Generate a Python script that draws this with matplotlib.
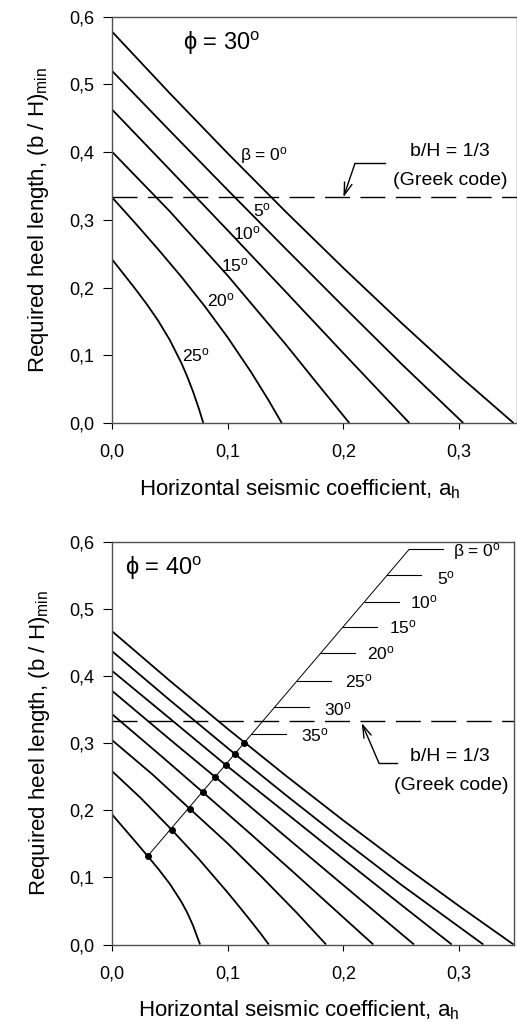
import matplotlib
matplotlib.use("Agg")
import matplotlib.pyplot as plt
import numpy as np

plt.rcParams['font.family'] = ['Liberation Sans', 'DejaVu Sans']
plt.rcParams['mathtext.fontset'] = 'custom'
plt.rcParams['mathtext.rm'] = 'Liberation Sans'
plt.rcParams['mathtext.it'] = 'Liberation Sans:italic'
plt.rcParams['mathtext.bf'] = 'Liberation Sans:bold'

# ---------------- data: phi = 30 deg ----------------
betas30 = [0, 5, 10, 15, 20, 25]
phi30_a = [
    [0, 0.05, 0.10, 0.15, 0.20, 0.25, 0.30, 0.347],
    [0, 0.05, 0.10, 0.15, 0.20, 0.25, 0.3036],
    [0, 0.05, 0.10, 0.15, 0.20, 0.257],
    [0, 0.05, 0.10, 0.15, 0.175, 0.2051],
    [0, 0.02, 0.04, 0.06, 0.08, 0.10, 0.12, 0.135, 0.1467],
    [0, 0.01, 0.02, 0.03, 0.04, 0.05, 0.06, 0.065, 0.07, 0.075, 0.0789],
]
phi30_v = [
    [0.578, 0.4868, 0.3982, 0.3122, 0.2288, 0.148, 0.0698, 0.0],
    [0.520, 0.4315, 0.344, 0.2575, 0.172, 0.0875, 0.0],
    [0.463, 0.374, 0.2845, 0.194, 0.103, 0.0],
    [0.4006, 0.3124, 0.2176, 0.1164, 0.0633, 0.0],
    [0.3333, 0.2953, 0.2563, 0.2158, 0.1727, 0.1263, 0.0757, 0.0344, 0.0],
    [0.2417, 0.2201, 0.1983, 0.1756, 0.1508, 0.1224, 0.0885, 0.0686, 0.0465, 0.0216, 0.0],
]
labels30 = [r'β = 0$^{\mathrm{o}}$', r'5$^{\mathrm{o}}$', r'10$^{\mathrm{o}}$',
            r'15$^{\mathrm{o}}$', r'20$^{\mathrm{o}}$', r'25$^{\mathrm{o}}$']
label30_a = [0.1315, 0.130, 0.1164, 0.1063, 0.0938, 0.0722]
label30_v = [0.3957, 0.3145, 0.2801, 0.2333, 0.1816, 0.1004]

# ---------------- data: phi = 40 deg ----------------
betas40 = [0, 5, 10, 15, 20, 25, 30, 35]
phi40_a = [
    [0, 0.05, 0.10, 0.15, 0.20, 0.25, 0.30, 0.347],
    [0, 0.05, 0.1066, 0.15, 0.20, 0.25, 0.3209],
    [0, 0.05, 0.0988, 0.15, 0.20, 0.25, 0.2936],
    [0, 0.05, 0.0893, 0.15, 0.20, 0.261],
    [0, 0.04, 0.0787, 0.12, 0.16, 0.20, 0.2258],
    [0, 0.035, 0.0672, 0.10, 0.13, 0.16, 0.185],
    [0, 0.025, 0.0516, 0.075, 0.10, 0.11, 0.12, 0.128, 0.1355],
    [0, 0.01, 0.02, 0.03, 0.04, 0.05, 0.06, 0.065, 0.07, 0.0761],
]
phi40_v = [
    [0.4667, 0.3928, 0.3212, 0.2518, 0.1847, 0.1198, 0.0572, 0.0],
    [0.437, 0.3639, 0.2832, 0.2229, 0.155, 0.0889, 0.0],
    [0.4077, 0.3366, 0.2668, 0.1964, 0.1273, 0.0590, 0.0],
    [0.3779, 0.3055, 0.2494, 0.1607, 0.0883, 0.0],
    [0.3432, 0.2845, 0.2266, 0.1643, 0.1027, 0.0402, 0.0],
    [0.3045, 0.2533, 0.2022, 0.1505, 0.0996, 0.0466, 0.0],
    [0.2583, 0.2179, 0.1709, 0.1274, 0.0773, 0.0563, 0.0349, 0.0173, 0.0],
    [0.1938, 0.1737, 0.1537, 0.1334, 0.1126, 0.0902, 0.0635, 0.0475, 0.0284, 0.0],
]
dots40_a = [0.1143, 0.1066, 0.0988, 0.0893, 0.0787, 0.0672, 0.0516, 0.0309]
dots40_v = [0.300, 0.2832, 0.2668, 0.2494, 0.2266, 0.2022, 0.1709, 0.1318]
diag_a = [0.0309, 0.2567]
diag_v = [0.1318, 0.5884]
tick40_v = [0.5884, 0.5497, 0.5109, 0.4722, 0.4335, 0.3923, 0.3531, 0.3134]
tick_len = 0.0295
labels40 = [r'β = 0$^{\mathrm{o}}$', r'5$^{\mathrm{o}}$', r'10$^{\mathrm{o}}$',
            r'15$^{\mathrm{o}}$', r'20$^{\mathrm{o}}$', r'25$^{\mathrm{o}}$',
            r'30$^{\mathrm{o}}$', r'35$^{\mathrm{o}}$']
label40_a = [0.295, 0.2806, 0.2576, 0.2397, 0.2207, 0.2014, 0.1832, 0.1634]
label40_v = [0.586, 0.5452, 0.5104, 0.4731, 0.4335, 0.3927, 0.3502, 0.3119]

greek_code = 1.0 / 3.0
xticks = [0.0, 0.1, 0.2, 0.3]
yticks = [0.0, 0.1, 0.2, 0.3, 0.4, 0.5, 0.6]

W, H = 517, 1022
fig = plt.figure(figsize=(W / 100, H / 100), dpi=100)

ax1 = fig.add_axes([112 / W, 1 - 423 / H, 405 / W, (423 - 16.7) / H])
ax2 = fig.add_axes([112 / W, 1 - 944.5 / H, 402 / W, (944.5 - 541.7) / H])


def fmt(v):
    return ('%.1f' % v).replace('.', ',')


def style(ax, xmax):
    ax.set_xlim(0, xmax)
    ax.set_ylim(0, 0.6)
    ax.set_xticks(xticks)
    ax.set_yticks(yticks)
    ax.set_xticklabels([fmt(t) for t in xticks], fontsize=13)
    ax.set_yticklabels([fmt(t) for t in yticks], fontsize=13)
    ax.tick_params(axis='x', direction='out', length=4, width=0.8, pad=11)
    ax.tick_params(axis='y', direction='out', length=6.5, width=0.8, pad=6)
    for s in ax.spines.values():
        s.set_color('#505050')
        s.set_linewidth(1.0)
    ax.set_xlabel(r'Horizontal seismic coefficient, a$_{\mathrm{h}}$', fontsize=16)
    ax.set_ylabel(r'Required heel length, (b / H)$_{\mathrm{min}}$', fontsize=16)
    ax.xaxis.set_label_coords(0.464, -0.135)
    ax.yaxis.set_label_coords(-0.15, 0.5)
    ax.axhline(greek_code, color='black', lw=1.0, dashes=(18, 7.5))


style(ax1, 0.35)
style(ax2, 0.3474)

# ---- top panel ----
for a, v in zip(phi30_a, phi30_v):
    ax1.plot(a, v, color='black', lw=1.3, solid_capstyle='butt')
for t, a, v in zip(labels30, label30_a, label30_v):
    ax1.text(a, v, t, fontsize=12.5, ha='center', va='center')
ax1.text(0.0614, 0.5607, r'ϕ = 30$^{\mathrm{o}}$', fontsize=17, ha='left', va='center')

ax1.plot([0.236, 0.21], [0.3835, 0.3835], color='black', lw=1.0)
ax1.annotate('', xy=(0.2, greek_code), xytext=(0.21, 0.3835),
             arrowprops=dict(arrowstyle='->,head_length=9,head_width=2.8', lw=1.0,
                             color='black', mutation_scale=1, shrinkA=0, shrinkB=0))
ax1.text(0.292, 0.4006, 'b/H = 1/3', fontsize=14, ha='center', va='center')
ax1.text(0.2926, 0.3588, '(Greek code)', fontsize=14, ha='center', va='center')

# ---- bottom panel ----
for a, v in zip(phi40_a, phi40_v):
    ax2.plot(a, v, color='black', lw=1.3, solid_capstyle='butt')
ax2.plot(diag_a, diag_v, color='black', lw=0.7)
ax2.plot(dots40_a, dots40_v, linestyle='none', marker='o', ms=4, color='black')
tick_start = np.interp(tick40_v, diag_v, diag_a)
for ts, tv in zip(tick_start, tick40_v):
    ax2.plot([ts, ts + tick_len], [tv, tv], color='black', lw=0.8)
for t, a, v in zip(labels40, label40_a, label40_v):
    ax2.text(a, v, t, fontsize=12.5, ha='left', va='center')
ax2.text(0.011, 0.5605, r'ϕ = 40$^{\mathrm{o}}$', fontsize=17, ha='left', va='center')

ax2.plot([0.2466, 0.2308], [0.2698, 0.2698], color='black', lw=1.0)
ax2.annotate('', xy=(0.2158, 0.330), xytext=(0.2308, 0.2698),
             arrowprops=dict(arrowstyle='->,head_length=9,head_width=2.8', lw=1.0,
                             color='black', mutation_scale=1, shrinkA=0, shrinkB=0))
ax2.text(0.2921, 0.2806, 'b/H = 1/3', fontsize=14, ha='center', va='center')
ax2.text(0.2929, 0.2375, '(Greek code)', fontsize=14, ha='center', va='center')

fig.savefig('out.png', dpi=100)
